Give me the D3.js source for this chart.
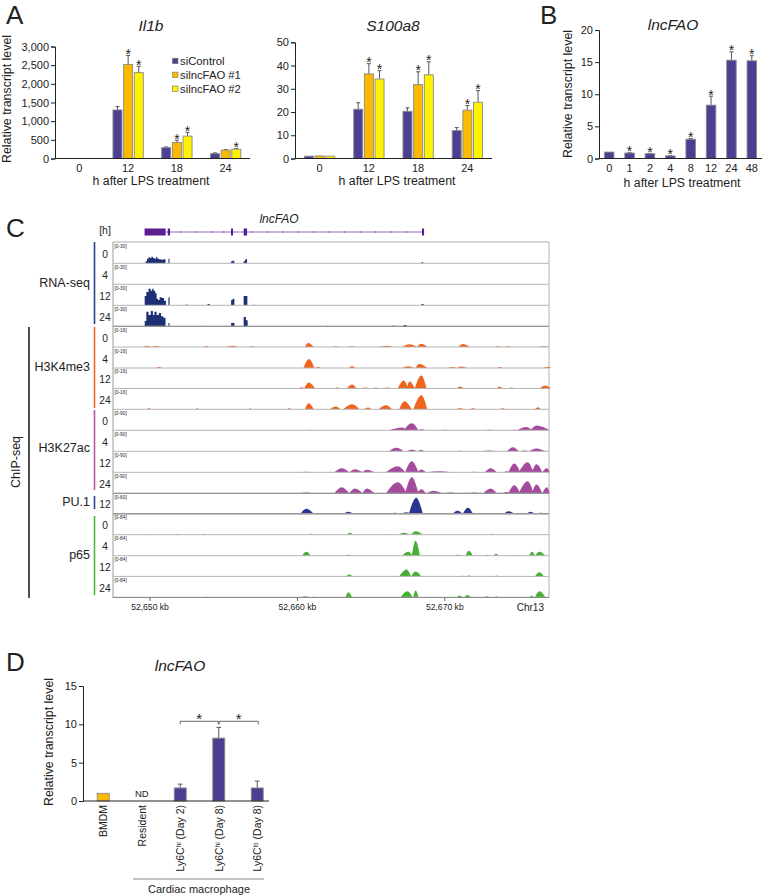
<!DOCTYPE html>
<html><head><meta charset="utf-8">
<script src="https://cdnjs.cloudflare.com/ajax/libs/d3/7.8.5/d3.min.js"></script>
<style>html,body{margin:0;padding:0;background:#fff}svg{display:block}text{font-family:"Liberation Sans",Arial,sans-serif;fill:#222}</style>
</head><body><svg id="c" width="762" height="896"></svg>
<script>
// ---------- bar data ----------
const seriesNames = ["siControl","silncFAO #1","silncFAO #2"];
const seriesColors = ["#4b3f92","#fbb900","#fff200"];
const hoursA = ["0","12","18","24"];
const il1bControl = [0,1300,290,130], il1bControlErr = [0,90,20,20];
const il1bSi1 = [0,2520,430,225], il1bSi1Err = [0,240,60,15];
const il1bSi2 = [0,2300,600,250], il1bSi2Err = [0,170,100,20];
const il1bStars = [[],[false,true,true],[false,true,true],[false,false,true]];
const s100Control = [1,21.2,20.3,12], s100ControlErr = [0,2.8,1.5,1.3];
const s100Si1 = [1.1,36.4,31.8,20.8], s100Si1Err = [0,4.4,5.5,2];
const s100Si2 = [1,34.2,36,24.2], s100Si2Err = [0,3.6,5.6,5];
const s100Stars = [[],[false,true,true],[false,true,true],[false,true,true]];
const hoursB = ["0","1","2","4","8","12","24","48"];
const lncB = [1,.85,.75,.4,3,8.3,15.3,15.2], lncBErr = [0,.05,.05,.05,.12,1.4,1.3,.8];
const lncBStars = [false,true,true,true,true,true,true,true];
const groupsD = ["BMDM","Resident","Day2","Day8hi","Day8lo"];
const lncD = [1,null,1.7,8.2,1.7], lncDErr = [0,0,.5,1.4,.9];

// ---------- genome track data (kb after 52,650) ----------
const geneExons = [[-.37,1.06],[1.2,1.36],[5.49,5.63],[6.35,6.58],[18.44,18.58]];
const geneTicks = [2.1,3.16,4.22,5.0,6.9,7.95,9.0,10.05,11.1,12.15,13.2,14.25,15.3,16.35,17.4];
const rna0 = [[-.3,3],[-.2,7],[-.1,9],[0,8],[.1,10],[.2,8],[.3,7],[.4,9],[.5,7],[.6,6],[.75,5.5],[.9,6],[1.05,0],[1.25,7],[1.32,0],[5.5,3],[5.6,4],[5.72,0],[6.35,3],[6.45,6],[6.58,0],[18.42,2],[18.52,0]];
const rna4 = [];
const rna12 = [[-.36,14],[-.25,20],[-.1,25],[.05,22],[.15,25],[.25,22],[.35,18],[.45,10],[.55,8],[.65,12],[.8,11],[.95,7],[1.08,0],[1.25,12],[1.33,0],[2.4,.8],[2.6,0],[3.9,2],[4.05,0],[5.5,8],[5.6,10],[5.72,0],[6.35,14],[6.6,0],[7,1],[7.1,0],[18.4,2],[18.55,0]];
const rna24 = [[-.36,8],[-.25,22],[-.1,17],[.05,23],[.2,17],[.3,22],[.45,17],[.6,20],[.75,15],[.9,13],[1.05,0],[1.25,5],[1.32,0],[3.7,1],[3.8,0],[5.5,5],[5.65,5.5],[5.72,0],[6.35,14],[6.5,9],[6.62,0],[12,1],[12.1,0],[16.4,1],[16.6,0],[17.2,2],[17.4,0]];
const k4me3_0 = [[-.5,-.2,.1,.8],[.1,.4,.7,.8],[3.6,3.8,4,.8],[5.1,5.6,6,1],[6.7,6.9,7.1,.6],[10.5,10.73,11.1,3.2],[12.4,12.6,12.8,.6],[13.4,13.7,13.9,.6],[15.5,16.1,16.5,1],[17.1,17.6,18.1,2.2],[18.1,18.4,18.8,2.6],[20.9,21.2,21.7,2.4],[23.4,23.6,23.8,.6],[24.1,24.3,24.5,.6],[26.3,26.7,27.1,.6]];
const k4me3_4 = [[.4,.6,.8,1],[10.4,10.78,11.15,7.2],[11.2,11.4,11.6,1],[13.5,13.7,13.9,1.6],[17.1,17.5,17.9,1.4],[18,18.26,18.8,3.2],[20.2,20.5,20.8,.8],[20.8,21.1,21.5,1.2],[23.5,23.7,23.9,.8],[26.6,27,27.2,1]];
const k4me3_12 = [[10,10.3,10.5,1],[10.45,10.76,11.2,4.8],[12.5,12.7,12.9,.8],[13.35,13.7,14,3.2],[14.3,14.6,14.9,.8],[15.1,15.3,15.5,.8],[15.8,16.1,16.4,.8],[16.8,17.2,17.5,6.4],[17.4,17.6,17.95,5.6],[17.95,18.4,18.75,10.4],[20.8,21,21.3,1.6],[23.5,23.7,23.9,1.6],[24.3,24.5,24.7,.9],[26.4,26.8,27.2,2.4]];
const k4me3_24 = [[-.2,-.1,.1,.8],[3.1,3.2,3.3,.8],[6.7,6.8,6.9,.8],[9.3,9.4,9.6,.8],[10.5,10.76,11.1,4.8],[12.2,12.6,12.9,2.2],[13.1,13.7,14.2,4],[14.5,14.8,15,1.4],[15.5,16,16.4,3.2],[16.9,17.25,17.75,6.4],[17.85,18.4,18.8,11.2],[20.7,21,21.3,.8],[21.7,21.9,22.1,.8],[23.7,23.9,24.1,.8],[26.1,26.3,26.5,1.6]];
const k27_0 = [[10.6,10.8,11,2.2],[16.2,17.1,17.4,13],[17.2,17.75,18.2,32],[18.2,18.4,18.7,4.5],[19.6,20,20.4,2.2],[22.5,23,23.5,3],[24.3,24.7,25,2.2],[24.9,25.5,25.9,15],[25.8,26.2,27.1,22]];
const k27_4 = [[16.2,16.7,17.2,16],[17.4,17.75,18.1,6.5],[18.2,18.35,18.6,7],[20.6,21,21.3,2],[22.5,23,23.5,4],[24.2,24.6,25,18],[25.1,25.4,25.7,4],[25.7,26.2,26.8,13]];
const k27_12 = [[10.2,10.6,11,2.5],[12.5,13,13.5,18],[13.5,13.9,14.4,14],[14.4,14.7,15.2,11],[16,16.8,17.3,27],[17.3,17.75,18.2,50],[18.1,18.4,18.7,13],[18.8,19.6,20.4,5],[21.7,22,22.3,3],[22.7,23.1,23.5,18],[24,24.2,24.4,5],[24.3,24.7,25.1,40],[25,25.6,26,45],[25.9,26.2,26.6,36],[26.6,26.9,27.1,18]];
const k27_24 = [[10.1,10.6,11,3.5],[12.5,13,13.5,27],[13.5,13.9,14.4,22],[14.4,14.7,15.2,22],[16,16.8,17.4,50],[17.3,17.75,18.2,72],[18.1,18.4,18.7,18],[18.8,19.2,19.8,11],[20,20.4,20.7,4],[21.6,22,22.3,4],[22.6,23.1,23.5,22],[23.9,24.2,24.4,6],[24.3,24.7,25.1,36],[25,25.6,26,54],[25.9,26.2,26.6,40],[26.6,26.9,27.1,27]];
const pu1_12 = [[10.2,10.6,11.1,15],[13.1,13.45,13.8,6],[16.3,16.6,16.9,3],[17,17.4,17.7,4.5],[17.55,18.05,18.5,48],[19.6,19.9,20.2,1.5],[20.5,20.85,21.2,9],[21.2,21.56,21.9,18],[23.3,23.6,23.9,1.5],[24,24.3,24.7,7.5],[25.5,25.8,26.1,6],[26.2,26.5,26.8,3]];
const p65_0 = [[10.7,10.9,11.1,4],[13.35,13.55,13.75,8],[15.9,16,16.2,2.5],[16.9,17.2,17.6,8],[17.7,18,18.5,15],[23,23.1,23.3,4],[-.1,0,.1,2],[1.8,1.9,2,4],[3.6,3.7,3.8,4]];
const p65_4 = [[10.3,10.6,10.9,17],[13.2,13.45,13.8,4],[17.1,17.5,17.8,17],[17.75,18,18.3,63],[20.6,20.9,21.2,4],[21.4,21.6,21.9,21],[22.7,22.9,23,4],[23.3,23.45,23.65,8],[24.7,24.9,25.1,3],[25.7,25.9,26.1,17],[26.1,26.4,26.8,17]];
const p65_12 = [[13.3,13.5,13.75,8],[16.9,17.4,17.7,29],[17.7,18,18.4,21],[21,21.2,21.4,3],[21.5,21.6,21.8,4],[23.4,23.5,23.6,4],[26.1,26.4,26.7,17]];
const p65_24 = [[3.7,3.8,3.9,3],[10.3,10.5,10.8,4],[11,11.1,11.2,3],[13.25,13.45,13.7,21],[17,17.45,17.8,25],[17.85,18,18.2,29],[20.8,20.95,21.2,8],[21.3,21.5,21.8,10],[22.7,22.9,23,4],[23.4,23.5,23.6,4],[25.7,25.9,26,6],[26.1,26.4,26.8,25]];

const trackRows = [
 {rows:[["0",rna0,263.3],["4",rna4,284.3],["12",rna12,305.3],["24",rna24,326.3]],max:30,color:"#1f2f74",step:true},
 {rows:[["0",k4me3_0,347],["4",k4me3_4,368],["12",k4me3_12,388.5],["24",k4me3_24,409.3]],max:16,color:"#f0641e"},
 {rows:[["0",k27_0,430.3],["4",k27_4,451.3],["12",k27_12,472.3],["24",k27_24,493.3]],max:90,color:"#a54b9e"},
 {rows:[["12",pu1_12,513.8]],max:60,color:"#2a3590"},
 {rows:[["0",p65_0,534.7],["4",p65_4,555.7],["12",p65_12,576.4],["24",p65_24,597.3]],max:84,color:"#45b034"}
];
const assayLabels = [["RNA-seq",283,"#2e3f8f",242,324],["H3K4me3",367,"#f26a21",327,408],["H3K27ac",448,"#b45aa8",410,490],["PU.1",502,"#2e3f9f",496,509],["p65",555,"#4db848",516,595]];
const kbTicks = [52650,52660,52670];

// ---------- helpers ----------
const svg = d3.select("#c");
const txt = (x,y,s,size,o={}) => svg.append("text").attr("x",x).attr("y",y).attr("font-size",size)
  .attr("text-anchor",o.anchor||"middle").attr("dominant-baseline","central")
  .attr("font-style",o.italic?"italic":null).attr("fill",o.fill||"#222")
  .attr("transform",o.rot?`rotate(${o.rot},${x},${y})`:null).text(s);

function yAxis(x,y,ticks,fmt){
  const g = svg.append("g").attr("transform",`translate(${x},0)`)
    .call(d3.axisLeft(y).tickValues(ticks).tickFormat(fmt).tickSize(4).tickPadding(2));
  g.select(".domain").attr("stroke","#222");
  g.selectAll(".tick line").attr("stroke","#222");
  g.selectAll("text").attr("font-size",11).attr("font-family",'"Liberation Sans",Arial,sans-serif').attr("fill","#222");
}
function errBar(cx,y,v,e,w){
  if(!e) return;
  svg.append("line").attr("x1",cx).attr("x2",cx).attr("y1",y(v)).attr("y2",y(v+e)).attr("stroke","#555").attr("stroke-width",1);
  svg.append("line").attr("x1",cx-w).attr("x2",cx+w).attr("y1",y(v+e)).attr("y2",y(v+e)).attr("stroke","#555").attr("stroke-width",1);
}
const star = (x,y,size=14) => txt(x,y,"*",size,{fill:"#555"});
function bar(cx,w,y,v,fill){
  svg.append("rect").attr("x",cx-w/2).attr("width",w).attr("y",y(v)).attr("height",y(0)-y(v))
    .attr("fill",fill).attr("stroke","#8a8a8a").attr("stroke-width",.9);
}
function baseLine(x1,x2,y0){ svg.append("line").attr("x1",x1).attr("x2",x2).attr("y1",y0).attr("y2",y0).attr("stroke","#222").attr("stroke-width",1.1); }

function groupedChart(o){
  const y = d3.scaleLinear().domain([0,o.max]).range([158.5,o.top]);
  const x = d3.scaleBand().domain(hoursA).range(o.xr);
  const inner = d3.scaleBand().domain([0,1,2]).range([-16,16]);
  o.series.forEach((s,si)=>s.forEach((v,gi)=>{
    if(!v) return;
    const cx = x(hoursA[gi])+x.bandwidth()/2+inner(si)+inner.bandwidth()/2;
    errBar(cx,y,v,o.errs[si][gi],2);
    bar(cx,9,y,v,seriesColors[si]);
    if(o.stars[gi][si]) star(cx,y(v+o.errs[si][gi])-1.5);
  }));
  baseLine(o.xr[0],o.end,158.5);
  yAxis(o.xr[0],y,o.ticks,o.fmt);
  hoursA.forEach(h=>txt(x(h)+x.bandwidth()/2,167.5,h,11));
  txt(o.xc,181,"h after LPS treatment",12.3);
  txt(o.tc,25,o.title,15.5,{italic:true});
}

// ---------- panel A ----------
txt(6,15,"A",26,{anchor:"start"});
txt(7,99,"Relative transcript level",12.4,{rot:-90});
groupedChart({max:3000,top:46.5,xr:[55,250],end:250,series:[il1bControl,il1bSi1,il1bSi2],errs:[il1bControlErr,il1bSi1Err,il1bSi2Err],stars:il1bStars,ticks:[0,500,1000,1500,2000,2500,3000],fmt:d3.format(","),xc:151,tc:151,title:"Il1b"});
groupedChart({max:50,top:42.3,xr:[295,492],end:492,series:[s100Control,s100Si1,s100Si2],errs:[s100ControlErr,s100Si1Err,s100Si2Err],stars:s100Stars,ticks:[0,10,20,30,40,50],fmt:d3.format("d"),xc:397,tc:393,title:"S100a8"});
const legendY = d3.scalePoint().domain(seriesNames).range([60.7,88.5]);
seriesNames.forEach((n,i)=>{
  svg.append("rect").attr("x",172.5).attr("y",legendY(n)-2.5).attr("width",5.5).attr("height",5.5).attr("fill",seriesColors[i]).attr("stroke","#777").attr("stroke-width",.6);
  txt(180,legendY(n),n,11.3,{anchor:"start"});
});

// ---------- panel B ----------
txt(540,15,"B",26,{anchor:"start"});
{
  const y = d3.scaleLinear().domain([0,20]).range([158.5,30]);
  const x = d3.scaleBand().domain(hoursB).range([599,762]);
  hoursB.forEach((h,i)=>{
    const cx = x(h)+x.bandwidth()/2;
    errBar(cx,y,lncB[i],lncBErr[i],2);
    bar(cx,9.5,y,lncB[i],seriesColors[0]);
    if(lncBStars[i]) star(cx,y(lncB[i]+lncBErr[i])-1.5);
    txt(cx,167.5,h,11);
  });
  baseLine(599,762,158.5);
  yAxis(599,y,[0,5,10,15,20],d3.format("d"));
  txt(682,183,"h after LPS treatment",12.3);
  txt(673,24,"lncFAO",15.5,{italic:true});
  txt(568,94,"Relative transcript level",12.4,{rot:-90});
}

// ---------- panel C ----------
txt(6,228,"C",26,{anchor:"start"});
const kb = d3.scaleLinear().domain([0,10]).range([150,297.5]);
const kbAbs = d3.scaleLinear().domain([52650,52670]).range([150,444.8]);
txt(105,230,"[h]",10.5);
txt(279,219,"lncFAO",12,{italic:true});
svg.append("line").attr("x1",kb(geneExons[0][1])).attr("x2",kb(geneExons[4][1])).attr("y1",232).attr("y2",232).attr("stroke","#9a66c8").attr("stroke-width",1);
geneTicks.forEach(t=>svg.append("line").attr("x1",kb(t)).attr("x2",kb(t)).attr("y1",231).attr("y2",233).attr("stroke","#7f50ad").attr("stroke-width",.8));
geneExons.forEach(e=>svg.append("rect").attr("x",kb(e[0])).attr("width",kb(e[1])-kb(e[0])).attr("y",228.5).attr("height",7).attr("fill","#5a1f8c"));

const frame = (x1,y1,x2,y2,c="#9b9b9b",w=1) => svg.append("line").attr("x1",x1).attr("y1",y1).attr("x2",x2).attr("y2",y2).attr("stroke",c).attr("stroke-width",w);
frame(113,242,549,242,"#aaa",1);
frame(113,242,113,598,"#8f8f8f",.9);
frame(549,242,549,598,"#aaa",.9);

trackRows.forEach(group=>{
  group.rows.forEach(([label,data,base])=>{
    const y = d3.scaleLinear().domain([0,group.max]).range([base,base-20]);
    if(group.step){
      const a = d3.area().curve(d3.curveStepAfter).x(d=>kb(d[0])).y0(base).y1(d=>y(d[1]));
      svg.append("path").attr("d",a(data)).attr("fill",group.color);
    } else {
      const a = d3.area().curve(d3.curveMonotoneX).x(d=>kb(d[0])).y0(base).y1(d=>y(d[1]));
      data.forEach(p=>svg.append("path").attr("d",a([[p[0],0],[p[1],p[3]],[p[2],0]])).attr("fill",group.color));
    }
    frame(113,base,549,base,"#b5b5b5",1);
    txt(114.5,base-16.8,`[0-${group.max}]`,4.8,{anchor:"start",fill:"#666"});
    txt(105,base-9,label,10.2);
  });
});
frame(113,326.3,549,326.3,"#8a8a8a",1);
frame(113,493.3,549,493.3,"#8a8a8a",1);
frame(113,513.8,549,513.8,"#9a9a9a",1.4);
assayLabels.forEach(([n,yc,c,y1,y2])=>{
  txt(90,yc,n,12.5,{anchor:"end"});
  frame(94.5,y1,94.5,y2,c,1.6);
});
frame(29,327,29,598,"#222",1.6);
txt(16,462,"ChIP-seq",12.5,{rot:-90});
frame(113,597.5,549,597.5,"#8a8a8a",1);
kbTicks.forEach(t=>{
  const x = kbAbs(t);
  frame(x,597.5,x,601,"#555",.9);
  txt(x,607,d3.format(",")(t)+" kb",8.6);
});
txt(544,607,"Chr13",10,{anchor:"end"});

// ---------- panel D ----------
txt(6,662,"D",26,{anchor:"start"});
{
  const y = d3.scaleLinear().domain([0,15]).range([801,686]);
  const x = d3.scaleBand().domain(groupsD).range([84,276.5]);
  const cx = g => x(g)+x.bandwidth()/2;
  groupsD.forEach((g,i)=>{
    if(lncD[i]==null) return;
    errBar(cx(g),y,lncD[i],lncDErr[i],2.3);
    bar(cx(g),12,y,lncD[i],i===0?seriesColors[1]:seriesColors[0]);
  });
  baseLine(83,269,801);
  yAxis(83,y,[0,5,10,15],d3.format("d"));
  txt(cx("Resident"),793,"ND",9.5);
  txt(49,742,"Relative transcript level",12.4,{rot:-90});
  txt(180,665,"lncFAO",15.5,{italic:true});
  const rotLabel = (g,parts)=>{
    const t = svg.append("text").attr("transform",`translate(${cx(g)+3.8},805) rotate(-90)`).attr("font-size",10.5).attr("text-anchor","end").attr("fill","#222");
    parts.forEach(([s,sup])=>{
      const sp = t.append("tspan").text(s);
      if(sup) sp.attr("font-size",6.5).attr("dy",-3);
      else if(t.selectAll("tspan").size()>1) sp.attr("dy",3);
    });
  };
  rotLabel("BMDM",[["BMDM"]]);
  rotLabel("Resident",[["Resident"]]);
  rotLabel("Day2",[["Ly6C"],["hi",1],[" (Day 2)"]]);
  rotLabel("Day8hi",[["Ly6C"],["hi",1],[" (Day 8)"]]);
  rotLabel("Day8lo",[["Ly6C"],["lo",1],[" (Day 8)"]]);
  const by = 721.3;
  const br = d3.line();
  [[cx("Day2"),cx("Day8hi")-.5],[cx("Day8hi")+.5,cx("Day8lo")+1]].forEach(([a,b])=>{
    svg.append("path").attr("d",br([[a,by+3],[a,by],[b,by],[b,by+3]])).attr("fill","none").attr("stroke","#444").attr("stroke-width",.8);
    star((a+b)/2,by-3,15);
  });
  frame(133,879,264,879,"#888",1.2);
  txt(199,889,"Cardiac macrophage",11);
}
</script></body></html>
